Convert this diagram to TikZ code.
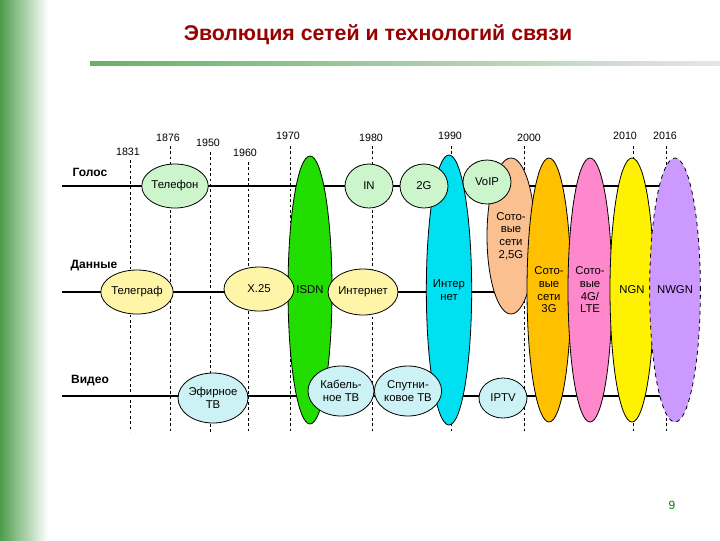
\documentclass[tikz,border=0pt]{standalone}
\usepackage{fontspec}
\setmainfont{Liberation Sans}
\usetikzlibrary{shapes.geometric}
\newcommand\pxl[1]{#1*0.75pt}
\definecolor{cgreen}{HTML}{22DD00}
\definecolor{ccyan}{HTML}{00E0F0}
\definecolor{cpeach}{HTML}{FAC090}
\definecolor{corange}{HTML}{FFC000}
\definecolor{cpink}{HTML}{FF88CC}
\definecolor{clav}{HTML}{CC99FF}
\definecolor{lgreen}{HTML}{CCF5CC}
\definecolor{lyellow}{HTML}{FFF5A8}
\definecolor{lcyan}{HTML}{CCF2F5}
\begin{document}
\begin{tikzpicture}[x=0.75pt,y=-0.75pt,
  el/.style={ellipse,draw=black,line width=0.6pt,inner sep=0pt,align=center,font=\fontsize{8.5}{9.5}\selectfont},
  axis/.style={line width=2.2pt},
  yr/.style={line width=0.7pt,dash pattern=on 2pt off 2pt},
  lab/.style={font=\fontsize{9}{10}\selectfont\bfseries},
  ylab/.style={font=\fontsize{8}{9}\selectfont}]
\useasboundingbox (0,0) rectangle (720,540);
\fill[white] (0,0) rectangle (720,540);
\shade[left color=green!45!black!70, right color=white] (0,0) rectangle (48,540);
\shade[left color=green!50!black!60, right color=gray!20] (90,61) rectangle (720,65);
\node[font=\fontsize{16}{18}\selectfont\bfseries,text=red!60!black] (title) at (378,35) {Эволюция сетей и технологий связи};
\node[font=\fontsize{9}{10}\selectfont,text=green!50!black] (pg) at (672,505) {9};
% years
\foreach \n/\x/\yt in {a/130/160,b/170/146,c/210/152,d/248/162,e/290/146,f/372/146,g/451/146,h/524/146,i/633/146,j/666/146}{
  \coordinate (t\n) at (\x,\yt); \coordinate (b\n) at (\x,432);
  \draw[yr] (t\n) -- (b\n);}
\node[ylab] (y1) at (128,152) {1831};
\node[ylab] (y2) at (168,138) {1876};
\node[ylab] (y3) at (208,143) {1950};
\node[ylab] (y4) at (245,153) {1960};
\node[ylab] (y5) at (288,136) {1970};
\node[ylab] (y6) at (371,138) {1980};
\node[ylab] (y7) at (450,136) {1990};
\node[ylab] (y8) at (529,138) {2000};
\node[ylab] (y9) at (625,136) {2010};
\node[ylab] (y10) at (665,136) {2016};
% axes
\coordinate (v0) at (62,186); \coordinate (v1) at (690,186);
\coordinate (d0) at (62,292); \coordinate (d1) at (690,292);
\coordinate (w0) at (62,396); \coordinate (w1) at (690,396);
\draw[axis] (v0) -- (v1); \draw[axis] (d0) -- (d1); \draw[axis] (w0) -- (w1);
\node[lab] (l1) at (90,172) {Голос};
\node[lab] (l2) at (94,266) {Данные};
\node[lab] (l3) at (90,381) {Видео};
% big ellipses
\node[el,fill=cgreen,minimum width=\pxl{44},minimum height=\pxl{268}] (isdn) at (310,290) {ISDN};
\node[el,fill=ccyan,minimum width=\pxl{44},minimum height=\pxl{270}] (inet) at (449,290) {Интер\\нет};
\node[el,fill=cpeach,minimum width=\pxl{48},minimum height=\pxl{156}] (g25) at (511,236) {Сото-\\вые\\сети\\2,5G};
\node[el,fill=corange,minimum width=\pxl{44},minimum height=\pxl{264}] (g3) at (549,290) {Сото-\\вые\\сети\\3G};
\node[el,fill=cpink,minimum width=\pxl{44},minimum height=\pxl{264}] (g4) at (590,290) {Сото-\\вые\\4G/\\LTE};
\node[el,fill=yellow,minimum width=\pxl{44},minimum height=\pxl{264}] (ngn) at (632,290) {NGN};
\node[el,fill=clav,dashed,minimum width=\pxl{44},minimum height=\pxl{264}] (nwgn) at (675,290) {NWGN};
% small ellipses
\node[el,fill=lgreen,minimum width=\pxl{52},minimum height=\pxl{44}] (tel) at (175,186) {Телефон};
\node[el,fill=lgreen,minimum width=\pxl{48},minimum height=\pxl{44}] (in) at (369,186) {IN};
\node[el,fill=lgreen,minimum width=\pxl{48},minimum height=\pxl{44}] (g2) at (424,186) {2G};
\node[el,fill=lgreen,minimum width=\pxl{48},minimum height=\pxl{44}] (voip) at (487,182) {VoIP};
\node[el,fill=lyellow,minimum width=\pxl{70},minimum height=\pxl{44}] (tg) at (137,292) {Телеграф};
\node[el,fill=lyellow,minimum width=\pxl{70},minimum height=\pxl{44}] (x25) at (259,289) {X.25};
\node[el,fill=lyellow,minimum width=\pxl{60},minimum height=\pxl{46}] (intd) at (363,292) {Интернет};
\node[el,fill=lcyan,minimum width=\pxl{70},minimum height=\pxl{50}] (etv) at (213,398) {Эфирное\\ТВ};
\node[el,fill=lcyan,minimum width=\pxl{66},minimum height=\pxl{50}] (ctv) at (341,391) {Кабель-\\ное ТВ};
\node[el,fill=lcyan,minimum width=\pxl{66},minimum height=\pxl{50}] (stv) at (408,391) {Спутни-\\ковое ТВ};
\node[el,fill=lcyan,minimum width=\pxl{48},minimum height=\pxl{40}] (iptv) at (503,398) {IPTV};
\end{tikzpicture}
\end{document}
